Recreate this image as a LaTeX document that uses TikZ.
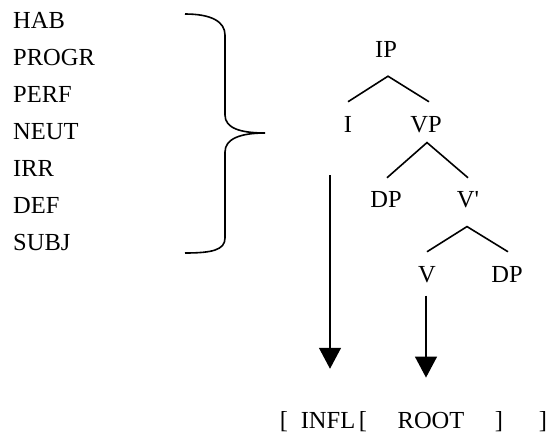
\documentclass[tikz,border=0pt]{standalone}
\usepackage{fontspec}
\setmainfont{Liberation Serif}
\usetikzlibrary{arrows.meta,calc}
\begin{document}
\begin{tikzpicture}[x=1pt,y=-1pt,
  lbl/.style={anchor=base,inner sep=0pt,font=\fontsize{24.5}{28}\selectfont},
  lst/.style={lbl,anchor=base west},
  branch/.style={line width=1.6pt},
  brace/.style={line width=1.6pt},
  arr/.style={line width=1.4pt,-{Triangle[width=22pt,length=21pt]}}]
\useasboundingbox (0,0) rectangle (548,439);
% left list
\node[lst] (hab) at (13,28) {HAB};
\node[lst] (progr) at (13,65) {PROGR};
\node[lst] (perf) at (13,102) {PERF};
\node[lst] (neut) at (13,139) {NEUT};
\node[lst] (irr) at (13,176) {IRR};
\node[lst] (def) at (13,213) {DEF};
\node[lst] (subj) at (13,250) {SUBJ};
% brace
\draw[brace] (185,14) .. controls (212,14) and (225,22) .. (225,35) -- (225,115)
  .. controls (225,128) and (240,133) .. (265,133)
  .. controls (240,133) and (225,139) .. (225,152) -- (225,238)
  .. controls (225,250) and (212,253) .. (185,253);
% tree
\node[lbl] (IP) at (386,57) {IP};
\node[lbl] (I) at (348,132) {I};
\node[lbl] (VP) at (426,132) {VP};
\node[lbl] (DP1) at (386,207) {DP};
\node[lbl] (Vb) at (468,207) {V\textquotesingle};
\node[lbl] (V) at (427,282) {V};
\node[lbl] (DP2) at (507,282) {DP};
\coordinate (IPa) at ($(IP.south)+(2,19)$);
\coordinate (VPa) at ($(VP.south)+(1,10)$);
\coordinate (Vba) at ($(Vb.south)+(-1,19)$);
\draw[branch] ($(I.north)+(0,-14)$) -- (IPa) -- ($(VP.north)+(3,-14)$);
\draw[branch] ($(DP1.north)+(1,-13)$) -- (VPa) -- ($(Vb.north)+(0,-13)$);
\draw[branch] ($(V.north)+(0,-14)$) -- (Vba) -- ($(DP2.north)+(1,-14)$);
% bottom bracketing
\node[lbl] (lb1) at (284,428) {[};
\node[lbl] (INFL) at (328,428) {INFL};
\node[lbl] (lb2) at (363,428) {[};
\node[lbl] (ROOT) at (431,428) {ROOT};
\node[lbl] (rb1) at (499,428) {]};
\node[lbl] (rb2) at (543,428) {]};
% arrows
\coordinate (Istart) at (330,175);
\draw[arr] (Istart) -- (Istart |- {$(INFL.north)+(0,-43)$});
\draw[arr] ($(V.south)+(-1,13)$) -- ($(V.south)+(-1,95)$);
\end{tikzpicture}
\end{document}
